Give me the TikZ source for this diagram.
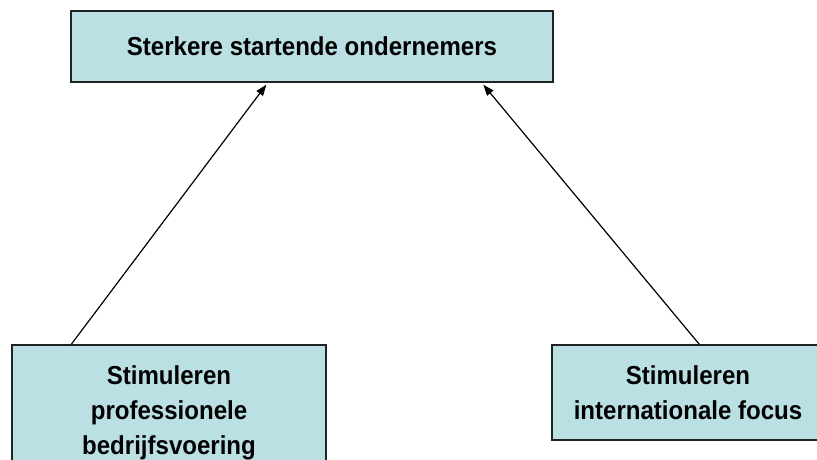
\documentclass[tikz,border=0pt]{standalone}
\usepackage{fontspec}
\setmainfont{Liberation Sans}[FakeStretch=0.925]
\usetikzlibrary{arrows.meta,calc}
\definecolor{boxfill}{HTML}{BBE0E3}
\definecolor{boxline}{HTML}{222222}
\tikzset{
  goalbox/.style={draw=boxline, line width=1.4pt, fill=boxfill, inner sep=0pt,
    align=center, font=\fontsize{26}{35}\selectfont\bfseries},
  link/.style={draw=black, line width=1.2pt, -{Triangle[length=11pt,width=8pt]}}
}
\begin{document}
\begin{tikzpicture}[x=1pt,y=-1pt]
\useasboundingbox (0,0) rectangle (817,459);
\clip (0,0) rectangle (817,459);
\node[goalbox, minimum width=482pt, minimum height=71pt] (top) at (312,46.5) {Sterkere startende ondernemers};
\node[goalbox, minimum width=314pt, minimum height=130pt, text depth=0pt] (left) at (169,410) {Stimuleren\\professionele\\bedrijfsvoering};
\node[goalbox, minimum width=272pt, minimum height=95pt] (right) at (688,392.5) {Stimuleren\\internationale focus};
\coordinate (lstart) at ($(left.north west)+(60,0)$);
\coordinate (lend) at ($(top.south west)+(196,2)$);
\coordinate (rstart) at ($(right.north west)+(148,0)$);
\coordinate (rend) at ($(top.south west)+(413,2)$);
\draw[link] (lstart) -- (lend);
\draw[link] (rstart) -- (rend);
\end{tikzpicture}
\end{document}
